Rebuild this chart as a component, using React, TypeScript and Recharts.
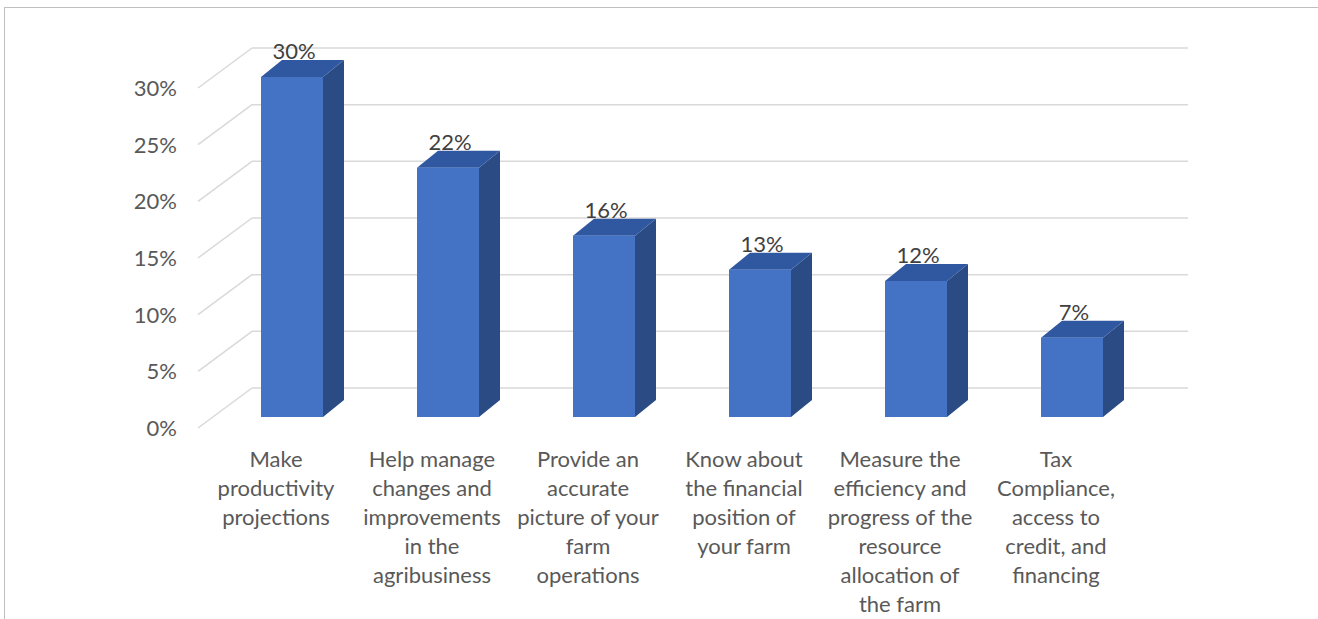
import React from "react";
import { BarChart, Bar, XAxis, YAxis, CartesianGrid, LabelList } from "recharts";

const categories = [
  "Make\nproductivity\nprojections",
  "Help manage\nchanges and\nimprovements\nin the\nagribusiness",
  "Provide an\naccurate\npicture of your\nfarm\noperations",
  "Know about\nthe financial\nposition of\nyour farm",
  "Measure the\nefficiency and\nprogress of the\nresource\nallocation of\nthe farm",
  "Tax\nCompliance,\naccess to\ncredit, and\nfinancing",
];
const values = [30, 22, 16, 13, 12, 7];
const yTicks = [0, 5, 10, 15, 20, 25, 30];

const data = categories.map((c, i) => ({ name: c, value: values[i] }));

const FONT = "Lato, 'Open Sans', sans-serif";
// 3D geometry
const WALL_DX = 54;
const WALL_DY = 40;
const BAR_OFF_X = 16;
const BAR_OFF_Y = 11;
const DEPTH_DX = 21;
const DEPTH_DY = 17;

const FRONT = "#4472C4";
const TOP = "#3058A0";
const SIDE = "#2B4B85";

const Bar3D = (props: any) => {
  const { x, y, width, height } = props;
  const fx = x + BAR_OFF_X;
  const fy = y - BAR_OFF_Y;
  const w = width;
  const h = height;
  const top = `${fx},${fy} ${fx + DEPTH_DX},${fy - DEPTH_DY} ${fx + w + DEPTH_DX},${fy - DEPTH_DY} ${fx + w},${fy}`;
  const side = `${fx + w},${fy} ${fx + w + DEPTH_DX},${fy - DEPTH_DY} ${fx + w + DEPTH_DX},${fy + h - DEPTH_DY} ${fx + w},${fy + h}`;
  return (
    <g>
      <polygon points={side} fill={SIDE} />
      <polygon points={top} fill={TOP} />
      <rect x={fx} y={fy} width={w} height={h} fill={FRONT} />
    </g>
  );
};

const GridLine = (props: any) => {
  const { x1, y1, x2 } = props;
  const bx = x1 + WALL_DX;
  const by = y1 - WALL_DY;
  return (
    <g key={props.key}>
      <line x1={x1} y1={y1} x2={bx} y2={by} stroke="#D9D9D9" strokeWidth={1.5} />
      <line x1={bx} y1={by} x2={x2 + WALL_DX} y2={by} stroke="#D9D9D9" strokeWidth={1.5} />
    </g>
  );
};

const YTick = (props: any) => {
  const { y, payload } = props;
  return (
    <text x={177} y={y + 8} textAnchor="end" fontFamily={FONT} fontSize={22} fill="#595959">
      {`${payload.value}%`}
    </text>
  );
};

const XTick = (props: any) => {
  const { x, y, payload } = props;
  const lines = String(payload.value).split("\n");
  return (
    <text x={x} y={y + 39} textAnchor="middle" fontFamily={FONT} fontSize={22} fill="#595959">
      {lines.map((l, i) => (
        <tspan key={i} x={x} dy={i === 0 ? 0 : 29}>
          {l}
        </tspan>
      ))}
    </text>
  );
};

const DataLabel = (props: any) => {
  const { x, y, width, value } = props;
  return (
    <text
      x={x + BAR_OFF_X + width / 2 + 2}
      y={y - BAR_OFF_Y - DEPTH_DY - 1}
      textAnchor="middle"
      fontFamily={FONT}
      fontSize={22}
      fill="#404040"
    >
      {`${value}%`}
    </text>
  );
};

export default function App() {
  return (
    <div style={{ position: "fixed", left: 0, top: 0, width: 1318, height: 619, overflow: "hidden", background: "#fff" }}>
      <div
        style={{
          position: "absolute",
          left: 4,
          top: 7,
          width: 1400,
          height: 700,
          border: "1.5px solid #BFBFBF",
          boxSizing: "border-box",
        }}
      />
      <div style={{ position: "absolute", left: 0, top: 0 }}>
        <BarChart
          width={1318}
          height={619}
          data={data}
          margin={{ top: 88, right: 184, bottom: 0, left: 0 }}
          barCategoryGap={0}
        >
          <CartesianGrid vertical={false} horizontal={(p: any) => <GridLine {...p} />} />
          <XAxis
            dataKey="name"
            height={191}
            tickLine={false}
            axisLine={false}
            tickSize={0}
            tickMargin={0}
            interval={0}
            tick={<XTick />}
          />
          <YAxis
            width={198}
            domain={[0, 30]}
            ticks={yTicks}
            tickLine={false}
            axisLine={false}
            tickSize={0}
            tick={<YTick />}
          />
          <Bar dataKey="value" barSize={62} shape={<Bar3D />} isAnimationActive={false}>
            <LabelList dataKey="value" content={<DataLabel />} />
          </Bar>
        </BarChart>
      </div>
    </div>
  );
}
